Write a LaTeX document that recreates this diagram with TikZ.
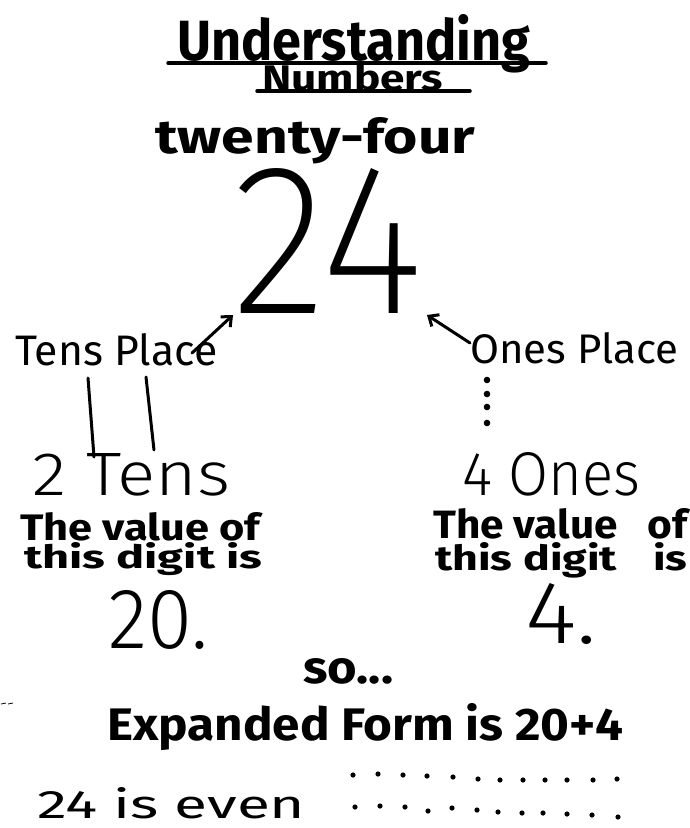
\documentclass[tikz,border=0pt]{standalone}
\usepackage{fontspec}
\usepackage{graphicx}
\usetikzlibrary{arrows.meta}
\setmainfont{Fira Sans}
\IfFontExistsTF{Fira Sans Light}{\newfontfamily\lightf{Fira Sans Light}}{\newfontfamily\lightf{Fira Sans}}
\IfFontExistsTF{Fira Sans ExtraLight}{\newfontfamily\xlightf{Fira Sans ExtraLight}}{\let\xlightf\lightf}
\newcommand\fitbox[3]{\resizebox{#1pt}{#2pt}{#3}}
\tikzset{
  txt/.style={inner sep=0pt, anchor=base west},
  uline/.style={line width=3.5pt, line cap=round},
  pen/.style={line width=3pt, line cap=round},
  pointer/.style={line width=3pt, line cap=round, -{Straight Barb[length=8pt,width=14pt,line width=3pt]}},
  dotmark/.style={fill=black, draw=none}
}
\begin{document}
\begin{tikzpicture}[x=1pt,y=1pt]
\useasboundingbox (0,0) rectangle (689,-828);
% title
\node[txt] (under) at (177,-60) {\fitbox{353}{46}{\bfseries Understanding}};
\draw[uline] (168,-63) -- (546,-63);
\node[txt] (numbers) at (262,-90) {\fitbox{181}{27}{\bfseries Numbers}};
\draw[uline] (257,-91) -- (470,-91);
\node[txt] (words) at (155,-153) {\fitbox{320}{36}{\bfseries twenty-four}};
% big number
\node[txt] (num) at (232,-313) {\fitbox{191}{145}{\xlightf 24}};
% places
\node[txt] (tens) at (15,-365) {\fitbox{202}{32}{Tens Place}};
\node[txt] (ones) at (470,-363) {\fitbox{208}{31}{Ones Place}};
\coordinate (tensTail) at (192,-353);
\coordinate (twoTip) at (233,-315);
\coordinate (onesTail) at (470,-343);
\coordinate (fourTip) at (427,-315);
\draw[pointer] (tensTail) -- (twoTip);
\draw[pointer] (onesTail) -- (fourTip);
% connectors below places
\coordinate (l1a) at (88,-378); \coordinate (l1b) at (94,-457);
\coordinate (l2a) at (146,-377); \coordinate (l2b) at (154,-450);
\draw[pen] (l1a) -- (l1b);
\draw[pen] (l2a) -- (l2b);
\foreach \yy in {380,394,407,423} \fill[dotmark] (487,-\yy) circle (3.3);
% counts
\node[txt] (twotens) at (32,-495) {\fitbox{198}{42}{\lightf 2 Tens}};
\node[txt] (fourones) at (462,-495) {\fitbox{178}{43}{\lightf 4 Ones}};
% value texts
\node[txt] (lv1) at (20,-540) {\fitbox{240}{28}{\bfseries The value of}};
\node[txt] (lv2) at (24,-568) {\fitbox{238}{26}{\bfseries this digit is}};
\node[txt] (rv1) at (433,-538) {\fitbox{254}{30}{\bfseries The value\hspace{0.7em}of}};
\node[txt] (rv2) at (435,-570) {\fitbox{252}{28}{\bfseries this digit\hspace{0.8em}is}};
\node[txt] (twenty) at (108,-648) {\fitbox{100}{58}{\lightf 20.}};
\node[txt] (four) at (525,-643) {\fitbox{72}{60}{\lightf 4.}};
% conclusion
\node[txt] (so) at (303,-683) {\fitbox{90}{25}{\bfseries so...}};
\draw[line width=0.8pt] (1,-704) -- (6,-703) (8,-704) -- (13,-703);
\node[txt] (expanded) at (107,-740) {\fitbox{516}{37}{\bfseries Expanded Form is 20+4}};
\node[txt] (even) at (37,-818) {\fitbox{268}{31}{24 is even}};
% dot array
\foreach \xx/\yy in {353/775,378/774,403/775,427/776,453/777,478/779,500/780,523/780,545/780,567/780,593/780,617/779}
  \fill[dotmark] (\xx,-\yy) circle (2.6);
\foreach \xx/\yy in {355/807,380/806,405/807,428/811,452/808,477/810,498/812,522/813,543/813,567/814,592/815,618/817}
  \fill[dotmark] (\xx,-\yy) circle (2.6);
\end{tikzpicture}
\end{document}
